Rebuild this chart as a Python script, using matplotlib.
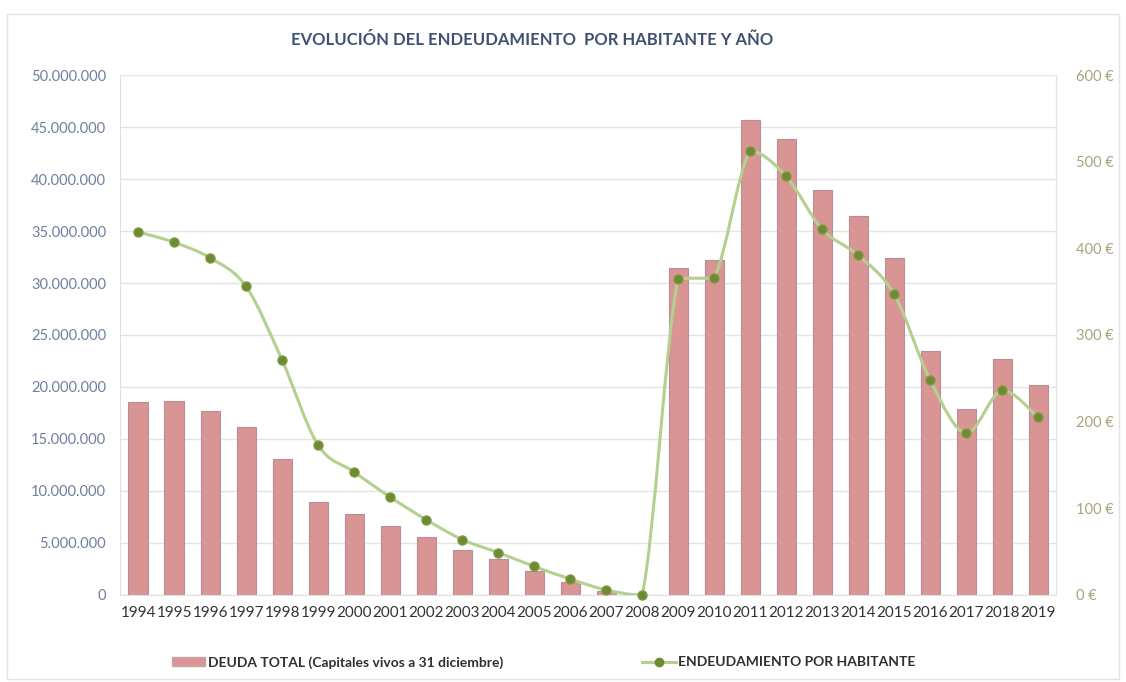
import matplotlib
matplotlib.use("Agg")
import matplotlib.pyplot as plt
from matplotlib.path import Path
from matplotlib.patches import PathPatch, Rectangle
from matplotlib.lines import Line2D
from matplotlib.ticker import FuncFormatter, MultipleLocator

plt.rcParams['font.family'] = ['Lato', 'DejaVu Sans']

# datos
years = ['1994', '1995', '1996', '1997', '1998', '1999', '2000', '2001', '2002',
         '2003', '2004', '2005', '2006', '2007', '2008', '2009', '2010', '2011',
         '2012', '2013', '2014', '2015', '2016', '2017', '2018', '2019']
deuda_total = [18.59, 18.68, 17.69, 16.15, 13.08, 8.97, 7.79, 6.67, 5.55, 4.33,
               3.46, 2.34, 1.28, 0.41, 0.0, 31.47, 32.2, 45.67, 43.8, 38.94,
               36.47, 32.4, 23.5, 17.88, 22.66, 20.19]  # millones de euros
por_habitante = [419, 407, 389, 356, 271, 173, 142, 113, 87, 64, 49, 33, 18.5,
                 5.8, 0, 365, 366, 512, 483, 422, 392, 347, 248, 186.5, 236.5, 205]

bar_color = '#d99594'
line_color = '#b4d08f'
marker_color = '#6e8b34'


def smooth_path(xs, ys):
    # curva suavizada tipo Excel (Catmull-Rom como Bezier), sin pasarse del tramo
    verts = [(xs[0], ys[0])]
    codes = [Path.MOVETO]
    n = len(xs)
    for i in range(n - 1):
        x0, y0 = (xs[i - 1], ys[i - 1]) if i > 0 else (xs[i], ys[i])
        x1, y1 = xs[i], ys[i]
        x2, y2 = xs[i + 1], ys[i + 1]
        x3, y3 = (xs[i + 2], ys[i + 2]) if i + 2 < n else (x2, y2)
        lo, hi = min(y1, y2), max(y1, y2)
        c1y = min(max(y1 + (y2 - y0) / 6, lo), hi)
        c2y = min(max(y2 - (y3 - y1) / 6, lo), hi)
        verts += [(x1 + (x2 - x0) / 6, c1y), (x2 - (x3 - x1) / 6, c2y), (x2, y2)]
        codes += [Path.CURVE4] * 3
    return Path(verts, codes)


fig = plt.figure(figsize=(11.26, 6.82), dpi=100)
fig.patches.append(Rectangle((0.006, 0.004), 0.988, 0.976, transform=fig.transFigure,
                             fill=False, edgecolor='#e3e3e3', linewidth=1))

ax = fig.add_axes([0.1066, 0.1276, 0.8314, 0.7624])
x = list(range(len(years)))
ax.bar(x, [v * 1e6 for v in deuda_total], width=0.53, color=bar_color,
       edgecolor='#b68d99', linewidth=0.8, zorder=2)
ax.set_xlim(-0.5, len(years) - 0.5)
ax.set_ylim(0, 50e6)
ax.yaxis.set_major_locator(MultipleLocator(5e6))
ax.yaxis.set_major_formatter(FuncFormatter(lambda v, p: f"{int(v):,}".replace(",", ".")))
ax.grid(axis='y', color='#e4e4e4', linewidth=1, zorder=0)
ax.set_axisbelow(True)
ax.set_xticks(x)
ax.set_xticklabels(years)
ax.tick_params(axis='x', length=0, pad=8, labelsize=11, labelcolor='#333333')
ax.tick_params(axis='y', length=0, pad=10, labelsize=10.5, labelcolor='#6f7f9e')
ax.spines['top'].set_visible(False)
for s in ['left', 'right', 'bottom']:
    ax.spines[s].set_color('#e0e0e0')

ax2 = ax.twinx()
ax2.set_ylim(0, 600)
ax2.yaxis.set_major_locator(MultipleLocator(100))
ax2.yaxis.set_major_formatter(FuncFormatter(lambda v, p: f"{int(v)} €"))
ax2.tick_params(axis='y', length=0, pad=14, labelsize=10.5, labelcolor='#aaa27a')
for s in ['top', 'left', 'bottom']:
    ax2.spines[s].set_visible(False)
ax2.spines['right'].set_color('#e6e6d6')
ax2.add_patch(PathPatch(smooth_path(x, por_habitante), fill=False,
                        edgecolor=line_color, linewidth=2.2, zorder=3))
ax2.plot(x, por_habitante, linestyle='none', marker='o', markersize=6.5,
         color=marker_color, markeredgecolor='#7f9a40', zorder=4, clip_on=False)

fig.text(0.473, 0.941, 'EVOLUCIÓN DEL ENDEUDAMIENTO  POR HABITANTE Y AÑO',
         ha='center', va='center', fontsize=12, fontweight='bold', color='#3e5170')

handles = [Rectangle((0, 0), 1, 1, facecolor=bar_color, edgecolor='#c9a3aa'),
           Line2D([0], [0], color=line_color, linewidth=2.2, marker='o',
                  markersize=6, markerfacecolor=marker_color, markeredgecolor=marker_color)]
labels = ['DEUDA TOTAL (Capitales vivos a 31 diciembre)', 'ENDEUDAMIENTO POR HABITANTE']
leg = fig.legend(handles, labels, loc='center', bbox_to_anchor=(0.483, 0.029), ncol=2,
                 frameon=False, handlelength=2.4, handletextpad=0.2, columnspacing=10,
                 prop={'size': 10, 'weight': 'bold'})
for t in leg.get_texts():
    t.set_color('#2f2f2f')

fig.savefig('out.png', dpi=100, facecolor='white')
